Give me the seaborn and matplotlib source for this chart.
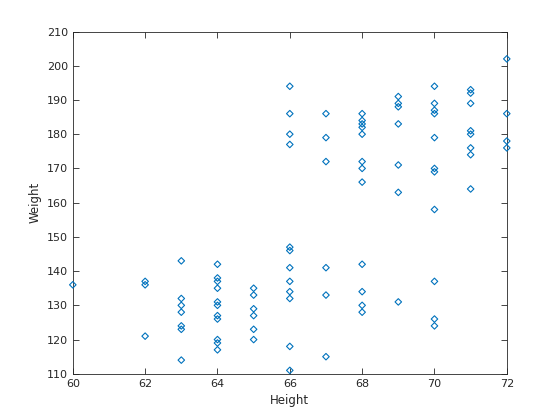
import matplotlib
matplotlib.use('Agg')
import matplotlib.pyplot as plt
import pandas as pd
import seaborn as sns

# Data
height = ([60] +
          [62] * 3 +
          [63] * 7 +
          [64] * 11 +
          [65] * 6 +
          [66] * 12 +
          [67] * 6 +
          [68] * 12 +
          [69] * 7 +
          [70] * 11 +
          [71] * 8 +
          [72] * 4)
weight = ([136] +
          [137, 136, 121] +
          [143, 132, 130, 128, 124, 123, 114] +
          [142, 138, 137, 135, 131, 130, 127, 126, 120, 119, 117] +
          [135, 133, 129, 127, 123, 120] +
          [194, 186, 180, 177, 147, 146, 141, 137, 134, 132, 118, 111] +
          [186, 179, 172, 141, 133, 115] +
          [186, 184, 183, 182, 180, 172, 170, 166, 142, 134, 130, 128] +
          [191, 189, 188, 183, 171, 163, 131] +
          [194, 189, 187, 186, 179, 170, 169, 158, 137, 126, 124] +
          [193, 192, 189, 181, 180, 176, 174, 164] +
          [202, 186, 178, 176])

df = pd.DataFrame({'Height': height, 'Weight': weight})

sns.set_style('white')
plt.rcParams['font.family'] = ['DejaVu Sans']

fig = plt.figure(figsize=(5.6, 4.2), dpi=100)
ax = fig.add_axes([0.13, 0.11, 0.775, 0.815])

sns.scatterplot(data=df, x='Height', y='Weight', marker='D', s=11,
                color='#0072BD', linewidth=0.8, clip_on=False, zorder=3, ax=ax)
ax.collections[0].set_facecolor('none')
ax.collections[0].set_edgecolor('#0072BD')

ax.set_xlim(60, 72)
ax.set_ylim(110, 210)
ax.set_xticks(range(60, 73, 2))
ax.set_yticks(range(110, 211, 10))

axis_color = '#262626'
for s in ax.spines.values():
    s.set_visible(True)
    s.set_color(axis_color)
    s.set_linewidth(0.6)
ax.tick_params(direction='in', length=4, width=0.6, colors=axis_color,
               labelsize=8, top=True, right=True, bottom=True, left=True)
ax.set_xlabel('Height', fontsize=8.5, color=axis_color)
ax.set_ylabel('Weight', fontsize=8.5, color=axis_color)

fig.savefig('out.png', dpi=100)
